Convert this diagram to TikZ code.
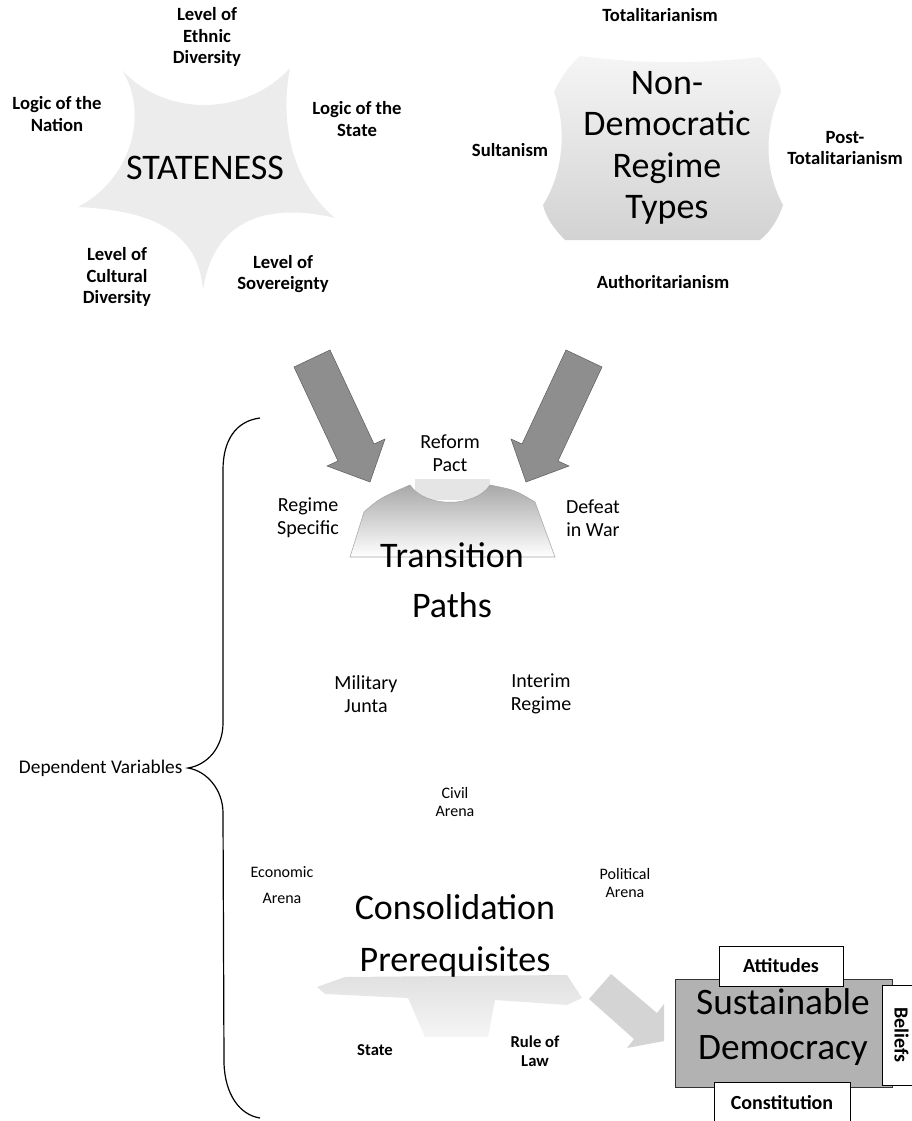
\documentclass[tikz,border=0pt]{standalone}
\usepackage{fontspec}
\setmainfont{Carlito}
\usepackage{tikz}
\usetikzlibrary{positioning}
\definecolor{arrowgray}{HTML}{8E8E8E}
\definecolor{boxgray}{HTML}{B2B2B2}

\begin{document}
\begin{tikzpicture}[x=0.75pt,y=-0.75pt,
    varlab/.style={font=\fontsize{14}{16}\selectfont\bfseries,align=center,inner sep=0pt},
    pathlab/.style={font=\fontsize{15}{17}\selectfont,align=center,inner sep=0pt},
    arenalab/.style={font=\fontsize{12}{13}\selectfont,align=center,inner sep=0pt},
    baselab/.style={font=\fontsize{12.5}{14.25}\selectfont\bfseries,align=center,inner sep=0pt},
    ttl/.style={font=\fontsize{27}{31}\selectfont,align=center,inner sep=0pt},
    blockarrow/.style={fill=arrowgray,draw=gray!75!black,line width=0.4pt},
    boxlab/.style={draw=black,fill=white,font=\fontsize{15}{17}\selectfont\bfseries,
      inner sep=0pt,line width=0.6pt}
  ]
  \clip (0,0) rectangle (912,1121);

  % stateness
  \fill[gray!15] (122,70) .. controls (165,117) and (245,117) .. (290,68)
    .. controls (280,120) and (290,180) .. (335,218)
    .. controls (280,205) and (215,210) .. (203,290)
    .. controls (198,225) and (140,210) .. (78,207)
    .. controls (130,180) and (150,115) .. (122,70) -- cycle;
  \node[ttl] (stateness) at (205,168) {STATENESS};
  \node[varlab] (ethnic) at (207,37) {Level of\\Ethnic\\Diversity};
  \node[varlab] (nation) at (57,114) {Logic of the\\Nation};
  \node[varlab] (statelogic) at (357,119) {Logic of the\\State};
  \node[varlab] (cultural) at (117,277) {Level of\\Cultural\\Diversity};
  \node[varlab] (sovereignty) at (283,274) {Level of\\Sovereignty};

  % regime types
  \shade[top color=gray!8,bottom color=gray!35] (580,56)
    .. controls (640,64) and (700,64) .. (760,57)
    .. controls (772,70) and (780,80) .. (781,92)
    .. controls (764,130) and (764,170) .. (783,205)
    .. controls (778,220) and (770,232) .. (760,240) -- (565,240)
    .. controls (555,230) and (546,218) .. (543,205)
    .. controls (565,170) and (566,125) .. (554,92)
    .. controls (560,78) and (570,65) .. (580,56) -- cycle;
  \node[ttl] (regime) at (667,148) {Non-\\Democratic\\Regime\\Types};
  \node[varlab] (total) at (660,15) {Totalitarianism};
  \node[varlab] (sultan) at (510,150) {Sultanism};
  \node[varlab] (posttotal) at (845,148) {Post-\\Totalitarianism};
  \node[varlab] (author) at (663,282) {Authoritarianism};

  % arrows into transition
  \draw[blockarrow] (330,350) -- (374,444) -- (385,439) -- (370,482)
    -- (327,466) -- (338,461) -- (294,367) -- cycle;
  \draw[blockarrow] (566,350) -- (522,444) -- (511,439) -- (526,482)
    -- (569,466) -- (558,461) -- (602,367) -- cycle;

  % transition paths
  \fill[gray!20] (415,479) rectangle (490,500);
  \shade[top color=gray!68,middle color=gray!60,bottom color=white,draw=gray!70]
    (350,557) -- (364,512) .. controls (380,498) .. (410,485)
    .. controls (425,508) and (475,508) .. (490,485)
    .. controls (515,490) .. (535,502) -- (555,557) -- cycle;
  \node[ttl] (transition) at (452,580) {Transition\\[6.5pt]Paths};
  \node[pathlab] (reform) at (450,453) {Reform\\Pact};
  \node[pathlab] (specific) at (308,518) {Regime\\Specific};
  \node[pathlab] (defeat) at (593,518) {Defeat\\in War};
  \node[pathlab] (junta) at (366,694) {Military\\Junta};
  \node[pathlab] (interim) at (541,694) {Interim\\Regime};

  % consolidation
  \shade[top color=gray!24,bottom color=gray!8] (317,987) -- (345,977) -- (567,975)
    -- (582,998) -- (567,1005) -- (495,1000) -- (488,1037) -- (425,1037)
    -- (408,998) -- (325,994) -- cycle;
  \fill[gray!34] (611,974) -- (657,1013) -- (664,1004) -- (664,1041)
    -- (627,1048) -- (634,1039) -- (589,999) -- cycle;
  \node[ttl] (consol) at (455,936) {Consolidation\\[8pt]Prerequisites};
  \node[arenalab] (civil) at (455,802) {Civil\\Arena};
  \node[arenalab] (economic) at (282,885) {Economic\\[6.5pt]Arena};
  \node[arenalab] (political) at (625,883) {Political\\[1pt]Arena};
  \node[baselab] (statebase) at (375,1050) {State};
  \node[baselab] (law) at (535,1051) {Rule of\\Law};

  % sustainable democracy
  \node[draw=gray!40!black,fill=boxgray,minimum width=162.75pt,minimum height=81pt,
    inner sep=0pt] (sd) at (783.5,1033) {};
  \node[ttl,font=\fontsize{28}{31}\selectfont] (sdtext) at (783,1027) {Sustainable\\[3pt]Democracy};
  \node[boxlab,minimum width=93pt,minimum height=30pt] (att) at (781,966) {Attitudes};
  \node[boxlab,rotate=-90,minimum width=75pt,minimum height=28pt] (bel) at (901.5,1035) {Beliefs};
  \node[boxlab,minimum width=102pt,minimum height=31.5pt] (con) at (782,1103) {Constitution};

  % brace
  \coordinate (bracetip) at (188,768);
  \node[font=\fontsize{14.5}{17}\selectfont,inner sep=0pt,left=4pt of bracetip] (dv) {Dependent Variables};
  \draw[line width=0.9pt] (260,418) .. controls (236,421) and (223,440) .. (223,470)
    -- (223,723) .. controls (223,748) and (207,765) .. (bracetip)
    .. controls (207,771) and (223,790) .. (223,813) -- (224,1063)
    .. controls (225,1095) and (240,1115) .. (260,1118);
\end{tikzpicture}
\end{document}
